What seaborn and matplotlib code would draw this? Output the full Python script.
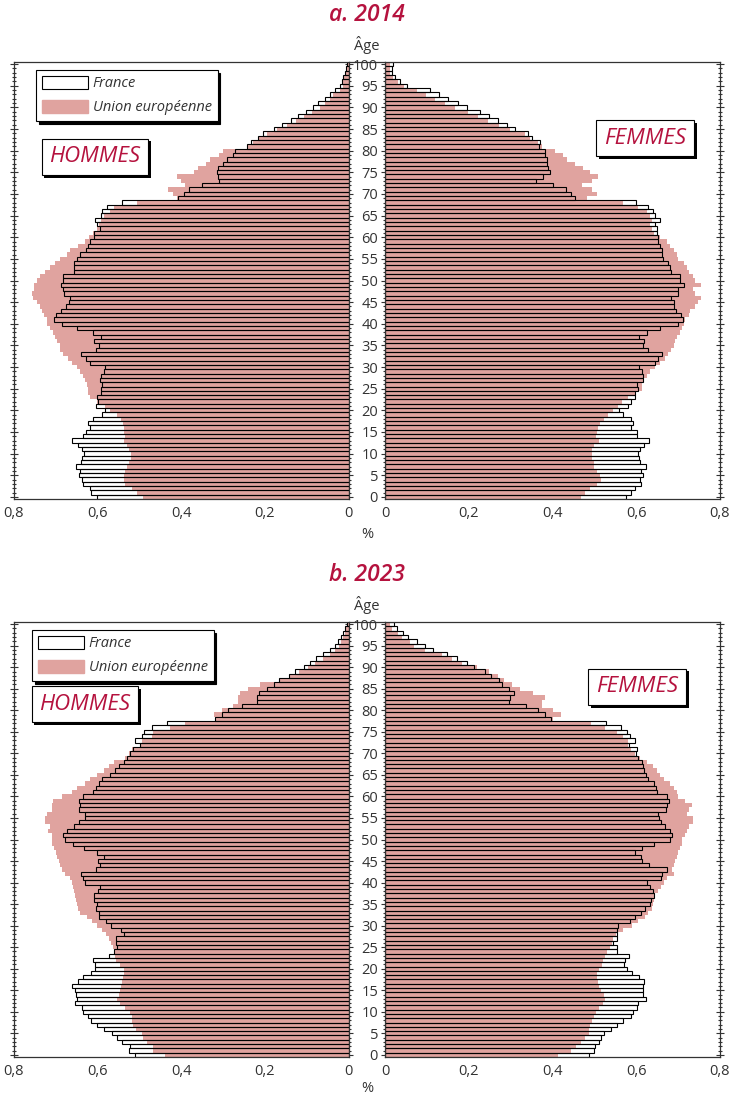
import numpy as np
import pandas as pd
import matplotlib
matplotlib.use("Agg")
import matplotlib.pyplot as plt
import matplotlib.patheffects as pe
from matplotlib.patches import Patch
from matplotlib.lines import Line2D
import seaborn as sns

ages = list(range(0, 101))

# 2014, hommes (age 0 -> 100), % of total population
france_h_2014 = [0.601, 0.615, 0.618, 0.635, 0.637, 0.643, 0.641, 0.650, 0.638, 0.637,
                 0.631, 0.637, 0.647, 0.661, 0.633, 0.627, 0.618, 0.623, 0.611, 0.589,
                 0.581, 0.604, 0.599, 0.601, 0.591, 0.592, 0.589, 0.593, 0.592, 0.585,
                 0.581, 0.618, 0.627, 0.639, 0.604, 0.597, 0.607, 0.592, 0.611, 0.649,
                 0.685, 0.703, 0.699, 0.687, 0.674, 0.667, 0.665, 0.679, 0.681, 0.686,
                 0.681, 0.681, 0.655, 0.655, 0.655, 0.649, 0.641, 0.627, 0.623, 0.617,
                 0.607, 0.607, 0.593, 0.601, 0.605, 0.591, 0.589, 0.576, 0.541, 0.406,
                 0.393, 0.380, 0.349, 0.309, 0.311, 0.313, 0.311, 0.299, 0.289, 0.275,
                 0.270, 0.243, 0.233, 0.215, 0.203, 0.177, 0.159, 0.138, 0.121, 0.101,
                 0.085, 0.072, 0.056, 0.045, 0.033, 0.020, 0.016, 0.012, 0.008, 0.006,
                 0.004]
ue_h_2014 = [0.491, 0.506, 0.518, 0.533, 0.536, 0.537, 0.533, 0.529, 0.523, 0.520,
             0.520, 0.523, 0.529, 0.537, 0.533, 0.536, 0.536, 0.539, 0.544, 0.553,
             0.569, 0.581, 0.601, 0.617, 0.621, 0.623, 0.625, 0.629, 0.635, 0.641,
             0.649, 0.661, 0.669, 0.681, 0.689, 0.690, 0.697, 0.700, 0.706, 0.712,
             0.720, 0.720, 0.728, 0.732, 0.736, 0.744, 0.754, 0.756, 0.750, 0.752,
             0.744, 0.736, 0.725, 0.713, 0.700, 0.689, 0.673, 0.665, 0.645, 0.629,
             0.620, 0.610, 0.600, 0.595, 0.590, 0.585, 0.570, 0.561, 0.506, 0.410,
             0.420, 0.430, 0.390, 0.400, 0.410, 0.370, 0.360, 0.340, 0.330, 0.310,
             0.300, 0.241, 0.227, 0.213, 0.195, 0.171, 0.147, 0.126, 0.107, 0.088,
             0.069, 0.056, 0.044, 0.036, 0.021, 0.012, 0.013, 0.010, 0.007, 0.005,
             0.003]

# 2014, femmes
france_f_2014 = [0.576, 0.588, 0.597, 0.611, 0.609, 0.615, 0.611, 0.623, 0.609, 0.607,
                 0.605, 0.609, 0.619, 0.631, 0.601, 0.601, 0.588, 0.593, 0.587, 0.569,
                 0.559, 0.581, 0.588, 0.597, 0.597, 0.604, 0.601, 0.615, 0.615, 0.613,
                 0.607, 0.645, 0.653, 0.662, 0.627, 0.615, 0.619, 0.607, 0.625, 0.657,
                 0.699, 0.711, 0.707, 0.695, 0.689, 0.689, 0.683, 0.700, 0.700, 0.713,
                 0.705, 0.705, 0.683, 0.681, 0.677, 0.663, 0.662, 0.661, 0.657, 0.653,
                 0.653, 0.650, 0.649, 0.645, 0.657, 0.645, 0.641, 0.629, 0.600, 0.454,
                 0.443, 0.432, 0.400, 0.360, 0.378, 0.394, 0.390, 0.388, 0.386, 0.382,
                 0.382, 0.368, 0.370, 0.352, 0.342, 0.311, 0.292, 0.269, 0.248, 0.227,
                 0.197, 0.174, 0.151, 0.129, 0.107, 0.052, 0.036, 0.024, 0.016, 0.016,
                 0.018]
ue_f_2014 = [0.468, 0.478, 0.490, 0.506, 0.516, 0.514, 0.506, 0.500, 0.498, 0.494,
             0.494, 0.495, 0.500, 0.510, 0.503, 0.506, 0.508, 0.514, 0.522, 0.533,
             0.545, 0.557, 0.565, 0.581, 0.597, 0.613, 0.613, 0.619, 0.625, 0.633,
             0.645, 0.657, 0.669, 0.677, 0.683, 0.689, 0.693, 0.697, 0.705, 0.709,
             0.713, 0.717, 0.725, 0.728, 0.740, 0.748, 0.755, 0.740, 0.736, 0.755,
             0.740, 0.736, 0.725, 0.721, 0.713, 0.700, 0.697, 0.689, 0.681, 0.673,
             0.657, 0.643, 0.637, 0.633, 0.637, 0.633, 0.625, 0.605, 0.569, 0.482,
             0.506, 0.494, 0.470, 0.494, 0.508, 0.490, 0.474, 0.454, 0.434, 0.426,
             0.406, 0.374, 0.366, 0.346, 0.334, 0.298, 0.272, 0.245, 0.223, 0.199,
             0.167, 0.143, 0.119, 0.097, 0.076, 0.045, 0.030, 0.020, 0.013, 0.012,
             0.012]

# 2023, hommes
france_h_2023 = [0.510, 0.525, 0.522, 0.541, 0.552, 0.564, 0.583, 0.600, 0.615, 0.621,
                 0.633, 0.637, 0.652, 0.649, 0.651, 0.653, 0.661, 0.645, 0.633, 0.615,
                 0.605, 0.605, 0.611, 0.573, 0.561, 0.553, 0.555, 0.555, 0.537, 0.543,
                 0.568, 0.579, 0.597, 0.596, 0.604, 0.600, 0.607, 0.607, 0.599, 0.594,
                 0.629, 0.633, 0.639, 0.604, 0.594, 0.598, 0.584, 0.600, 0.631, 0.658,
                 0.677, 0.681, 0.673, 0.655, 0.643, 0.629, 0.629, 0.643, 0.641, 0.643,
                 0.635, 0.609, 0.603, 0.595, 0.589, 0.569, 0.557, 0.549, 0.536, 0.529,
                 0.522, 0.515, 0.499, 0.511, 0.494, 0.488, 0.470, 0.434, 0.318, 0.303,
                 0.287, 0.255, 0.219, 0.219, 0.213, 0.195, 0.179, 0.165, 0.143, 0.127,
                 0.107, 0.093, 0.077, 0.060, 0.044, 0.033, 0.025, 0.018, 0.014, 0.008,
                 0.004]
ue_h_2023 = [0.438, 0.466, 0.467, 0.482, 0.490, 0.494, 0.507, 0.514, 0.516, 0.518,
             0.522, 0.533, 0.545, 0.553, 0.549, 0.545, 0.544, 0.541, 0.539, 0.536,
             0.536, 0.545, 0.555, 0.557, 0.557, 0.563, 0.568, 0.573, 0.579, 0.589,
             0.601, 0.613, 0.625, 0.641, 0.645, 0.649, 0.651, 0.653, 0.655, 0.659,
             0.661, 0.665, 0.677, 0.685, 0.689, 0.691, 0.696, 0.699, 0.704, 0.707,
             0.709, 0.709, 0.717, 0.713, 0.725, 0.725, 0.720, 0.709, 0.709, 0.705,
             0.685, 0.661, 0.649, 0.629, 0.617, 0.601, 0.585, 0.573, 0.561, 0.533,
             0.525, 0.517, 0.498, 0.494, 0.470, 0.466, 0.426, 0.390, 0.320, 0.322,
             0.303, 0.275, 0.263, 0.263, 0.259, 0.239, 0.211, 0.163, 0.139, 0.118,
             0.096, 0.080, 0.060, 0.044, 0.032, 0.022, 0.017, 0.012, 0.008, 0.005,
             0.003]

# 2023, femmes
france_f_2023 = [0.486, 0.500, 0.502, 0.510, 0.515, 0.524, 0.539, 0.553, 0.569, 0.588,
                 0.593, 0.601, 0.605, 0.623, 0.615, 0.617, 0.617, 0.619, 0.607, 0.591,
                 0.577, 0.571, 0.573, 0.583, 0.553, 0.553, 0.545, 0.553, 0.555, 0.553,
                 0.557, 0.585, 0.596, 0.611, 0.621, 0.633, 0.635, 0.642, 0.641, 0.633,
                 0.625, 0.659, 0.661, 0.673, 0.631, 0.613, 0.611, 0.596, 0.613, 0.643,
                 0.681, 0.686, 0.681, 0.669, 0.659, 0.654, 0.653, 0.670, 0.673, 0.678,
                 0.673, 0.649, 0.647, 0.643, 0.627, 0.623, 0.619, 0.615, 0.613, 0.605,
                 0.599, 0.601, 0.583, 0.597, 0.585, 0.579, 0.564, 0.528, 0.396, 0.381,
                 0.366, 0.337, 0.295, 0.299, 0.309, 0.295, 0.280, 0.272, 0.252, 0.239,
                 0.213, 0.197, 0.171, 0.147, 0.115, 0.096, 0.076, 0.056, 0.044, 0.029,
                 0.022]
ue_f_2023 = [0.414, 0.444, 0.455, 0.468, 0.478, 0.486, 0.488, 0.490, 0.494, 0.498,
             0.503, 0.510, 0.521, 0.525, 0.524, 0.516, 0.511, 0.508, 0.506, 0.506,
             0.510, 0.518, 0.521, 0.525, 0.529, 0.537, 0.541, 0.545, 0.551, 0.569,
             0.589, 0.605, 0.621, 0.627, 0.637, 0.641, 0.643, 0.645, 0.653, 0.659,
             0.667, 0.673, 0.689, 0.686, 0.689, 0.693, 0.697, 0.700, 0.705, 0.709,
             0.709, 0.717, 0.721, 0.725, 0.736, 0.736, 0.721, 0.725, 0.732, 0.717,
             0.700, 0.697, 0.691, 0.681, 0.667, 0.657, 0.649, 0.641, 0.625, 0.609,
             0.596, 0.588, 0.580, 0.580, 0.569, 0.553, 0.525, 0.492, 0.402, 0.420,
             0.402, 0.374, 0.374, 0.381, 0.354, 0.322, 0.303, 0.283, 0.271, 0.248,
             0.219, 0.183, 0.161, 0.135, 0.096, 0.070, 0.060, 0.040, 0.030, 0.016,
             0.012]

x_ticks = [0, 0.2, 0.4, 0.6, 0.8]
x_tick_labels = ["0", "0,2", "0,4", "0,6", "0,8"]

PINK = "#e0a39f"
RED = "#b5123e"
GREY = "#333333"

sns.set_style("white")
plt.rcParams["font.family"] = ["Open Sans", "DejaVu Sans"]

W, H = 731, 1095
fig = plt.figure(figsize=(W / 100, H / 100), dpi=100)


def px_axes(x0, y0, x1, y1):
    return fig.add_axes([x0 / W, 1 - y1 / H, (x1 - x0) / W, (y1 - y0) / H])


def draw_half(ax, france, ue, side):
    sns.barplot(x=ue, y=ages, orient="h", native_scale=True, width=1,
                color=PINK, saturation=1, linewidth=0, errorbar=None, ax=ax)
    sns.barplot(x=france, y=ages, orient="h", native_scale=True, width=1,
                fill=False, color="black", linewidth=0.8, errorbar=None, ax=ax)
    ax.set_ylim(-0.5, 100.5)
    if side == "left":
        ax.set_xlim(0.8, 0)
    else:
        ax.set_xlim(0, 0.8)
    ax.set_xlabel("")
    ax.set_ylabel("")
    ax.set_xticks(x_ticks)
    ax.set_xticklabels(x_tick_labels, fontsize=10.5, color=GREY)
    ax.set_yticks(range(0, 101, 5))
    ax.set_yticks(range(0, 101), minor=True)
    ax.tick_params(axis="x", direction="in", length=5, width=0.8, color=GREY, pad=5)
    if side == "left":
        ax.set_yticklabels([])
        ax.tick_params(axis="y", which="both", left=True, right=True,
                       direction="inout", color=GREY, width=0.8)
    else:
        ax.set_yticklabels([str(a) for a in range(0, 101, 5)], fontsize=10.5, color=GREY)
        ax.tick_params(axis="y", which="both", left=True, right=True,
                       direction="inout", color=GREY, width=0.8, pad=2)
    ax.tick_params(axis="y", which="major", length=6)
    ax.tick_params(axis="y", which="minor", length=3)
    for s in ax.spines.values():
        s.set_visible(True)
        s.set_color(GREY)
        s.set_linewidth(0.9)


def boxed_label(ax, x, y, text):
    t = ax.text(x, y, text, transform=ax.transAxes, ha="center", va="center",
                fontsize=16, style="italic", color=RED,
                bbox=dict(boxstyle="square,pad=0.35", fc="white", ec="black", lw=0.8))
    t.get_bbox_patch().set_path_effects(
        [pe.SimplePatchShadow(offset=(2, -2), shadow_rgbFace="black", alpha=1), pe.Normal()])


def add_legend(ax, x, y):
    handles = [Patch(facecolor="white", edgecolor="black", linewidth=0.8, label="France"),
               Patch(facecolor=PINK, edgecolor=PINK, label="Union européenne")]
    leg = ax.legend(handles=handles, loc="upper left", bbox_to_anchor=(x, y),
                    fontsize=10.5, frameon=True, fancybox=False, handlelength=3.2,
                    handleheight=1.0, borderpad=0.4, labelspacing=0.6, handletextpad=0.3,
                    borderaxespad=0, edgecolor="black",
                    shadow={"color": "black", "alpha": 1, "ox": 2, "oy": -2})
    for txt in leg.get_texts():
        txt.set_style("italic")
        txt.set_color(GREY)
    leg.get_frame().set_linewidth(0.8)


panels = [
    ("a. 2014", 0, france_h_2014, ue_h_2014, france_f_2014, ue_f_2014,
     (0.243, 0.783), (0.776, 0.826), (0.067, 0.982)),
    ("b. 2023", 560, france_h_2023, ue_h_2023, france_f_2023, ue_f_2023,
     (0.213, 0.811), (0.752, 0.851), (0.055, 0.982)),
]

for title, dy, fr_h, ue_h, fr_f, ue_f, pos_h, pos_f, pos_leg in panels:
    top = 62 if dy == 0 else 622
    bottom = 499 if dy == 0 else 1057
    ax_l = px_axes(13.5, top, 348.5, bottom)
    ax_r = px_axes(385, top, 720, bottom)
    draw_half(ax_l, fr_h, ue_h, "left")
    draw_half(ax_r, fr_f, ue_f, "right")
    boxed_label(ax_l, pos_h[0], pos_h[1], "HOMMES")
    boxed_label(ax_r, pos_f[0], pos_f[1], "FEMMES")
    add_legend(ax_l, pos_leg[0], pos_leg[1])

    fig.text(367 / W, 1 - (15 + dy) / H, title, ha="center", va="center",
             fontsize=16.5, style="italic", fontweight="semibold", color=RED)
    fig.text(367 / W, 1 - (45 + dy) / H, "Âge", ha="center", va="center",
             fontsize=10.5, color=GREY)
    pct_y = 535 if dy == 0 else 1088
    fig.text(367 / W, 1 - pct_y / H, "%", ha="center", va="center",
             fontsize=10.5, color=GREY)
    fig.add_artist(Line2D([348.5 / W, 385 / W], [1 - top / H, 1 - top / H],
                          color=GREY, linewidth=0.9))

fig.savefig("out.png", dpi=100)
